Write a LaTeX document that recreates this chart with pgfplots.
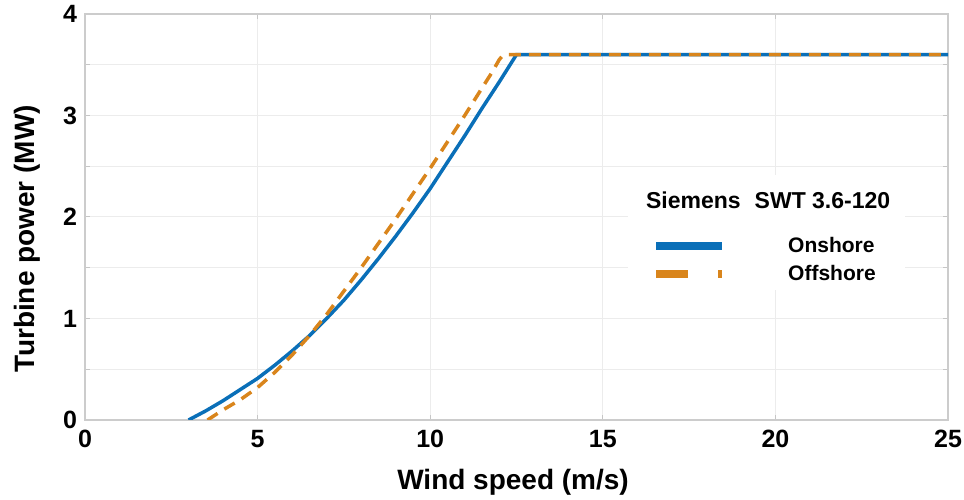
\documentclass[border=0pt]{standalone}
\usepackage{pgfplots}
\pgfplotsset{compat=1.18}
\usepackage{fontspec}
\setmainfont{Liberation Sans}
\usetikzlibrary{calc}
\definecolor{mblue}{HTML}{0A6FB8}
\definecolor{morange}{HTML}{D9851C}
\pgfplotstableread{
x y
3.0 0
3.5 0.09
4.0 0.19
4.5 0.30
5.0 0.41
5.5 0.54
6.0 0.68
6.5 0.83
7.0 1.00
7.5 1.18
8.0 1.38
8.5 1.59
9.0 1.81
9.5 2.04
10.0 2.28
10.5 2.54
11.0 2.80
11.5 3.07
12.0 3.33
12.5 3.60
25 3.60
}\onshore
\pgfplotstableread{
x y
3.55 0
4.0 0.10
4.5 0.20
5.0 0.32
5.5 0.47
6.0 0.64
6.5 0.83
7.0 1.04
7.5 1.27
8.0 1.50
8.5 1.74
9.0 1.98
9.5 2.23
10.0 2.48
10.5 2.74
11.0 3.00
11.5 3.27
11.8 3.43
11.9 3.49
12.0 3.55
12.1 3.59
12.2 3.60
25 3.60
}\offshore
\begin{document}
\begin{tikzpicture}
\begin{axis}[
  name=ax,
  scale only axis,
  width=431.5pt, height=203pt,
  xmin=0, xmax=25, ymin=0, ymax=4,
  xtick={0,5,...,25},
  ytick={0,1,2,3,4},
  minor ytick={0.5,1.5,2.5,3.5},
  xmajorgrids, ymajorgrids, yminorgrids,
  grid style={draw=gray!15, line width=0.5pt},
  minor grid style={draw=gray!15, line width=0.5pt},
  axis line style={draw=gray!40, line width=0.6pt},
  tick style={draw=gray!45, line width=0.5pt},
  tick align=inside,
  major tick length=2.5pt, minor tick length=2.5pt,
  /pgf/number format/assume math mode=true,
  ticklabel style={font=\bfseries\fontsize{12.5}{13}\selectfont, text=black},
  xticklabel style={yshift=-1.5pt},
  yticklabel style={xshift=-0.5pt},
  xlabel={Wind speed (m/s)},
  ylabel={Turbine power (MW)},
  label style={font=\bfseries\fontsize{14}{15}\selectfont},
  xlabel style={at={(axis description cs:0.496,-0.1527)}, anchor=center},
  ylabel style={at={(axis description cs:-0.0672,0.447)}, anchor=center},
  legend style={at={(axis cs:16.42,1.576)}, anchor=west, draw=none, fill=none,
    inner sep=0pt, column sep=31pt,
    font=\bfseries\fontsize{10.5}{11}\selectfont,
    nodes={inner xsep=0pt, inner ysep=2pt, text height=8pt, text depth=2pt}},
  legend cell align=left,
]
\addplot[forget plot, draw=mblue, line width=1.75pt] table[x=x,y=y]{\onshore};
\addplot[forget plot, draw=morange, line width=1.75pt, dash pattern=on 6pt off 4pt] table[x=x,y=y]{\offshore};
\fill[white] (axis cs:15.73,1.28) rectangle (axis cs:23.75,2.41);
\node[font=\bfseries\fontsize{11.5}{12}\selectfont, anchor=center] at (axis cs:19.79,2.16) {Siemens\,\, SWT 3.6-120};
\addlegendimage{legend image code/.code={\draw[draw=mblue, line width=4pt] (0pt,0pt) -- (33pt,0pt);}}
\addlegendentry{Onshore}
\addlegendimage{legend image code/.code={\draw[draw=morange, line width=4pt, dash pattern=on 16pt off 15pt] (0pt,0pt) -- (33pt,0pt);}}
\addlegendentry{Offshore}
\end{axis}
\pgfresetboundingbox
\path[use as bounding box] ($(ax.south west)+(-42.5pt,-40pt)$) rectangle ($(ax.north east)+(8pt,7pt)$);
\end{tikzpicture}
\end{document}
